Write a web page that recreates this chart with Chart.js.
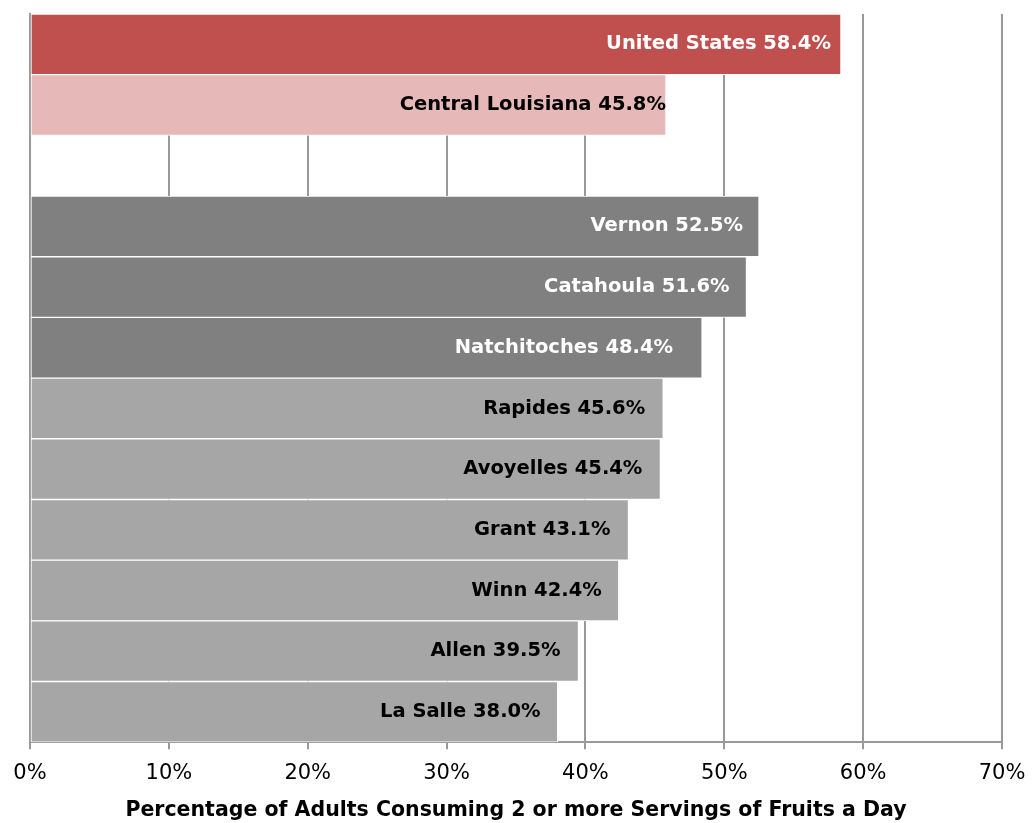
<!DOCTYPE html>
<html>
<head>
<meta charset="utf-8">
<script src="https://cdn.jsdelivr.net/npm/chart.js@4.4.1/dist/chart.umd.min.js"></script>
<style>
  html, body { margin: 0; padding: 0; background: #fff; }
  #wrap { width: 1032px; height: 823px; }
</style>
</head>
<body>
<div id="wrap"><canvas id="ch"></canvas></div>
<script>
// ── Data ──────────────────────────────────────────────────────────────────────
const categories = ['United States', 'Central Louisiana', '', 'Vernon', 'Catahoula', 'Natchitoches',
                    'Rapides', 'Avoyelles', 'Grant', 'Winn', 'Allen', 'La Salle'];
const values     = [58.4, 45.8, null, 52.5, 51.6, 48.4, 45.6, 45.4, 43.1, 42.4, 39.5, 38.0];
const xTicks     = [0, 10, 20, 30, 40, 50, 60, 70];
const axisTitle  = 'Percentage of Adults Consuming 2 or more Servings of Fruits a Day';

// ── Styles ────────────────────────────────────────────────────────────────────
const barColors   = ['#C0504D', '#E6B9B8', 'rgba(0,0,0,0)', '#808080', '#808080', '#808080',
                     '#A6A6A6', '#A6A6A6', '#A6A6A6', '#A6A6A6', '#A6A6A6', '#A6A6A6'];
const labelColors = ['#fff', '#000', '#000', '#fff', '#fff', '#fff',
                     '#000', '#000', '#000', '#000', '#000', '#000'];
const labelPad    = [10, 0, 0, 16, 17, 29, 18, 18, 18, 17, 18, 17];
const FONT = '"DejaVu Sans", sans-serif';

const barLabels = {
  id: 'barLabels',
  afterDatasetsDraw(chart) {
    const ctx = chart.ctx;
    const meta = chart.getDatasetMeta(0);
    ctx.save();
    ctx.font = 'bold 19.5px ' + FONT;
    ctx.textAlign = 'right';
    ctx.textBaseline = 'middle';
    meta.data.forEach(function(el, i) {
      if (values[i] == null) return;
      ctx.fillStyle = labelColors[i];
      ctx.fillText(categories[i] + ' ' + values[i].toFixed(1) + '%', el.x - labelPad[i], el.y);
    });
    ctx.restore();
  }
};

new Chart(document.getElementById('ch'), {
  type: 'bar',
  data: {
    labels: categories,
    datasets: [{
      data: values,
      backgroundColor: barColors,
      borderColor: '#fff',
      borderWidth: 1,
      borderSkipped: false,
      barPercentage: 1,
      categoryPercentage: 1
    }]
  },
  options: {
    indexAxis: 'y',
    responsive: true,
    maintainAspectRatio: false,
    animation: false,
    layout: { padding: { top: 14, left: 30, right: 30, bottom: 0 } },
    plugins: { legend: { display: false }, tooltip: { enabled: false } },
    scales: {
      x: {
        min: xTicks[0],
        max: xTicks[xTicks.length - 1],
        afterBuildTicks: function(scale) { scale.ticks = xTicks.map(function(v) { return { value: v }; }); },
        afterFit: function(scale) { scale.paddingLeft = 0; scale.paddingRight = 0; },
        ticks: {
          padding: 12,
          color: '#000',
          font: { family: FONT, size: 21 },
          maxRotation: 0,
          callback: function(v) { return v + '%'; }
        },
        grid: { color: '#999', lineWidth: 2, tickLength: 7 },
        border: { color: '#999', width: 2 },
        title: {
          display: true,
          text: axisTitle,
          color: '#000',
          font: { family: FONT, size: 20.5, weight: 'bold' },
          padding: { top: 0, bottom: 0 }
        }
      },
      y: {
        ticks: { display: false },
        grid: { display: false },
        border: { color: '#999', width: 2 },
        afterFit: function(scale) { scale.width = 0; }
      }
    }
  },
  plugins: [barLabels]
});
</script>
</body>
</html>
